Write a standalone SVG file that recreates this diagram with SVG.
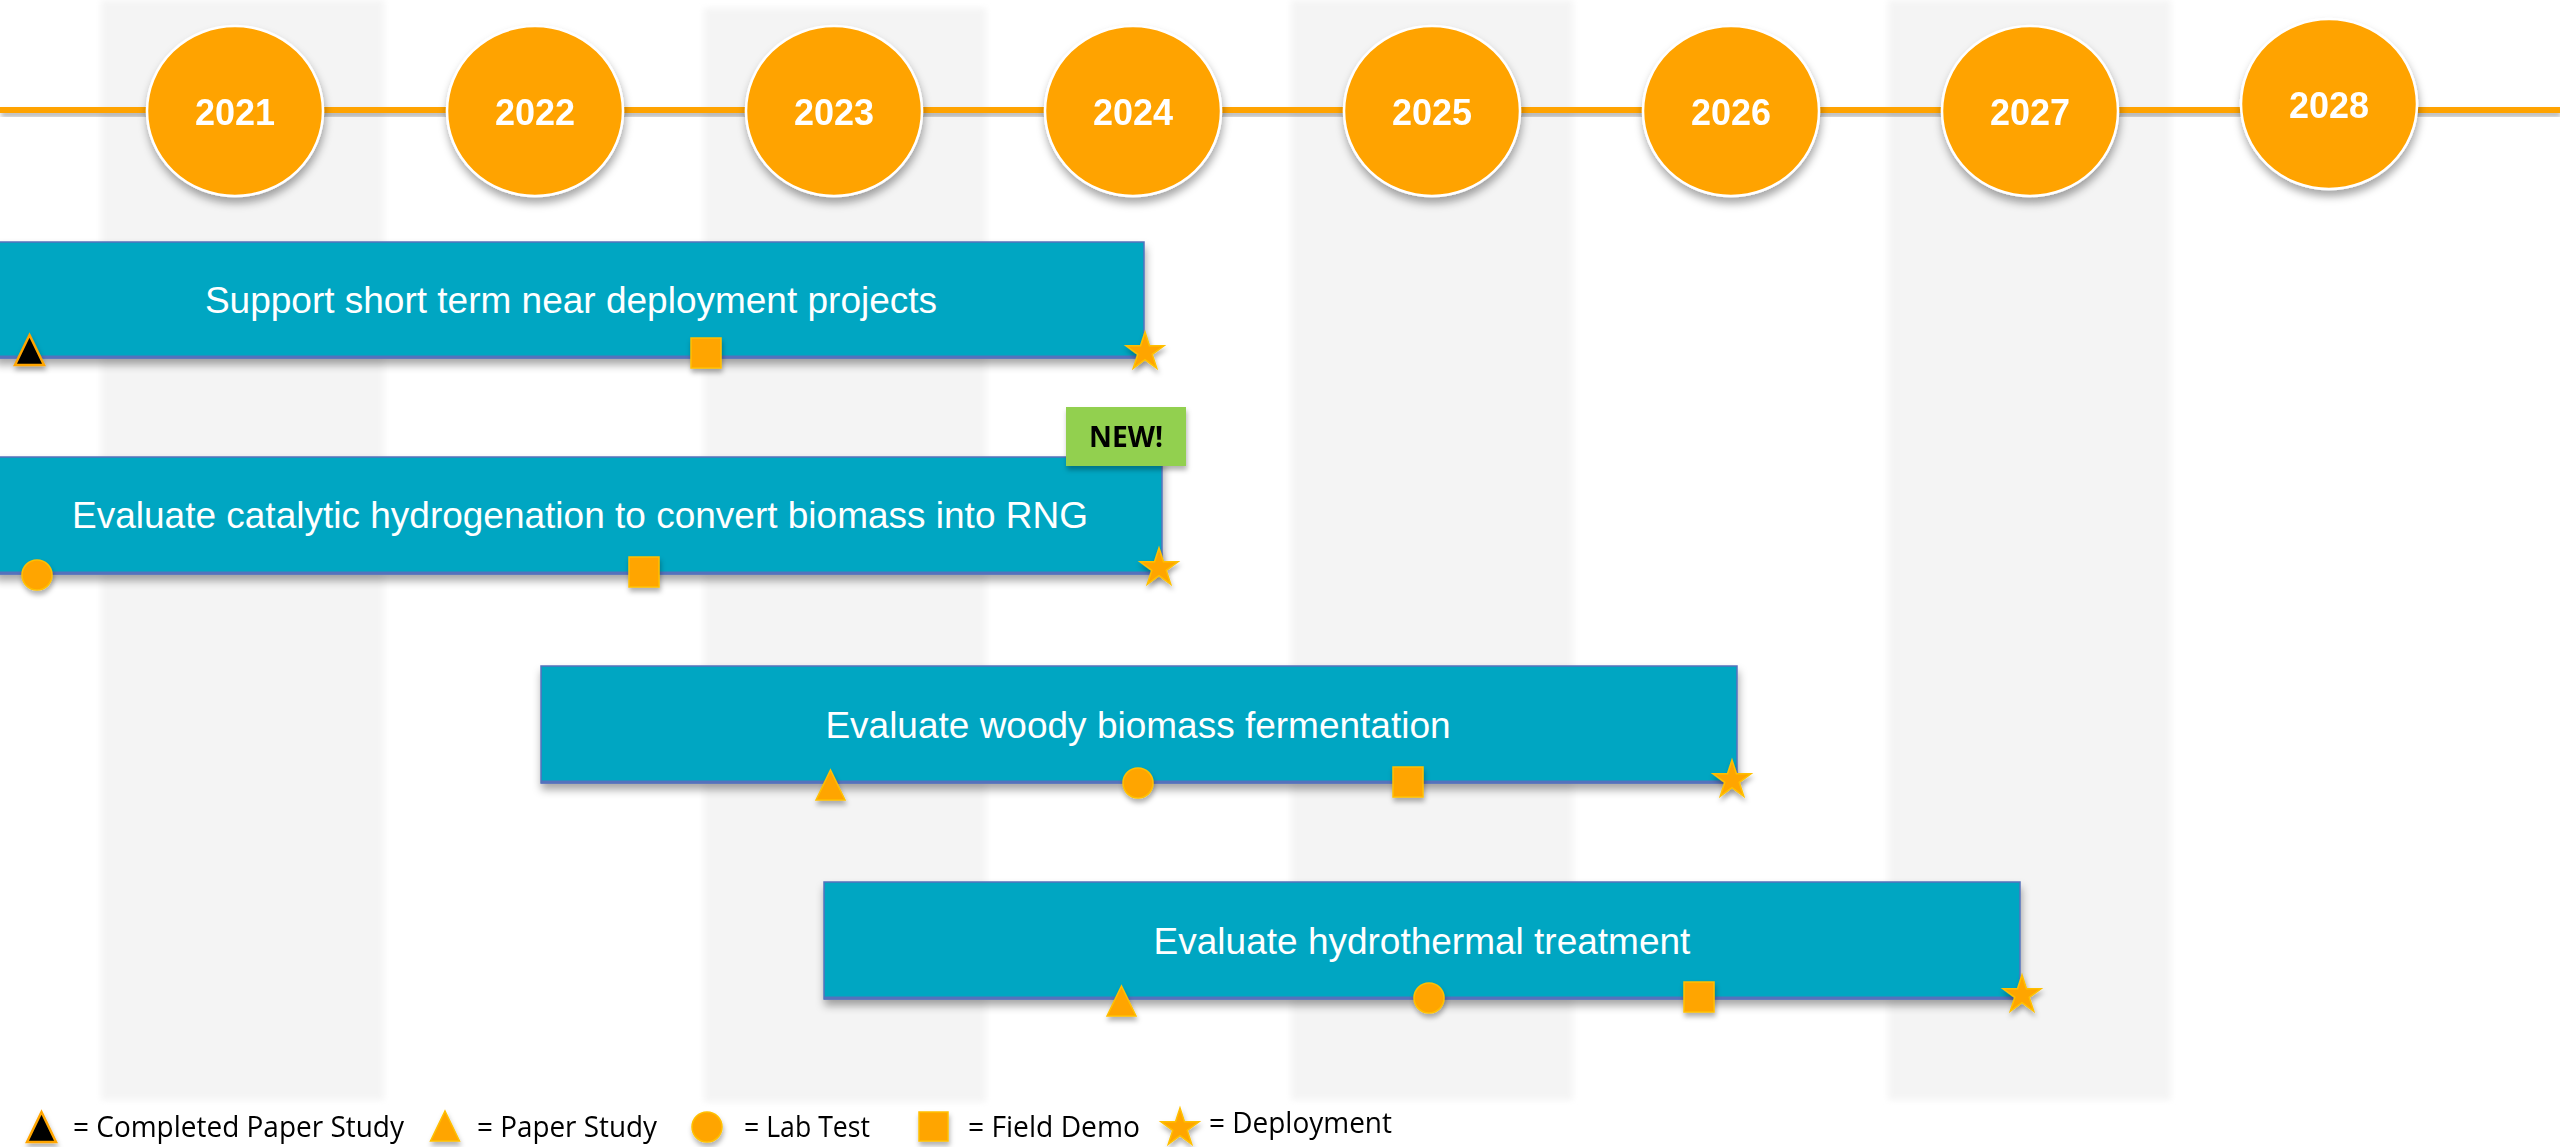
<svg xmlns="http://www.w3.org/2000/svg" xmlns:xlink="http://www.w3.org/1999/xlink" width="2560" height="1147" viewBox="0 0 2560 1147">
<defs>
<style>
.band{fill:#F4F4F4}
.yr{fill:#FFA300;stroke:#FFFFFF;stroke-width:2.5}
.yrt{font-family:"Liberation Sans",Arial,sans-serif;font-weight:bold;font-size:36px;fill:#FFFFFF;text-anchor:middle}
.bar{fill:#02A6C2;stroke:#5572BC;stroke-width:1.5}
.barb{stroke:#5572BC;stroke-width:3}
.bt{font-family:"Liberation Sans",Arial,sans-serif;font-size:37px;fill:#FFFFFF;text-anchor:middle}
.mk{fill:#FFA500;stroke:#FFC000;stroke-width:1.5}
.mkd{fill:#000000;stroke:#FFA500;stroke-width:2.5}
.lg{font-family:"Open Sans","Noto Sans",sans-serif;font-size:29px;fill:#000000}
</style>
<filter id="sh" x="-20%" y="-20%" width="140%" height="160%">
<feDropShadow dx="1" dy="6" stdDeviation="4" flood-color="#000" flood-opacity="0.35"/>
</filter>
<filter id="shs" x="-40%" y="-40%" width="180%" height="200%">
<feDropShadow dx="1" dy="4" stdDeviation="2.5" flood-color="#000" flood-opacity="0.3"/>
</filter>
<filter id="blur" x="-5%" y="-5%" width="110%" height="110%">
<feGaussianBlur stdDeviation="3"/>
</filter>
<path id="star" d="M0,-20 L4.49,-6.18 L19.02,-6.18 L7.27,2.36 L11.76,16.18 L0,7.64 L-11.76,16.18 L-7.27,2.36 L-19.02,-6.18 L-4.49,-6.18 Z"/>
<path id="tri" d="M0,-15 L14.5,15 L-14.5,15 Z"/>
</defs>
<rect width="2560" height="1147" fill="#FFFFFF"/>
<g id="bands" filter="url(#blur)">
<rect class="band" x="101" y="0" width="283" height="1100"/>
<rect class="band" x="704" y="8" width="282" height="1094"/>
<rect class="band" x="1291" y="0" width="282" height="1100"/>
<rect class="band" x="1888" y="0" width="283" height="1100"/>
</g>
<g id="connectors">
<rect x="0" y="107" width="2560" height="6" fill="#FFA300" filter="url(#shs)"/>
</g>
<g id="y2021" filter="url(#sh)"><ellipse class="yr" cx="235" cy="111" rx="88" ry="85"/><text class="yrt" x="235" y="125">2021</text></g>
<g id="y2022" filter="url(#sh)"><ellipse class="yr" cx="535" cy="111" rx="88" ry="85"/><text class="yrt" x="535" y="125">2022</text></g>
<g id="y2023" filter="url(#sh)"><ellipse class="yr" cx="834" cy="111" rx="88" ry="85"/><text class="yrt" x="834" y="125">2023</text></g>
<g id="y2024" filter="url(#sh)"><ellipse class="yr" cx="1133" cy="111" rx="88" ry="85"/><text class="yrt" x="1133" y="125">2024</text></g>
<g id="y2025" filter="url(#sh)"><ellipse class="yr" cx="1432" cy="111" rx="88" ry="85"/><text class="yrt" x="1432" y="125">2025</text></g>
<g id="y2026" filter="url(#sh)"><ellipse class="yr" cx="1731" cy="111" rx="88" ry="85"/><text class="yrt" x="1731" y="125">2026</text></g>
<g id="y2027" filter="url(#sh)"><ellipse class="yr" cx="2030" cy="111" rx="88" ry="85"/><text class="yrt" x="2030" y="125">2027</text></g>
<g id="y2028" filter="url(#sh)"><ellipse class="yr" cx="2329" cy="104" rx="88" ry="85"/><text class="yrt" x="2329" y="118">2028</text></g>

<g id="bar1">
<g filter="url(#sh)"><rect class="bar" x="-5" y="242" width="1149" height="116"/></g>
<line class="barb" x1="0" y1="357" x2="1144" y2="357"/>
<text class="bt" x="571" y="313">Support short term near deployment projects</text>
<g filter="url(#shs)">
<use xlink:href="#tri" class="mkd" x="29.5" y="350"/>
<rect class="mk" x="691" y="338" width="30" height="30"/>
<use xlink:href="#star" class="mk" x="1145" y="352"/>
</g>
</g>

<g id="bar2">
<g filter="url(#sh)"><rect class="bar" x="-5" y="457" width="1167" height="117"/></g>
<line class="barb" x1="0" y1="573" x2="1162" y2="573"/>
<text class="bt" x="580" y="528">Evaluate catalytic hydrogenation to convert biomass into RNG</text>
<g filter="url(#shs)">
<circle class="mk" cx="37" cy="575" r="15"/>
<rect class="mk" x="629" y="557" width="30" height="30"/>
<use xlink:href="#star" class="mk" x="1159" y="568"/>
</g>
</g>

<g id="new" filter="url(#shs)">
<rect x="1066" y="407" width="120" height="59" fill="#92D050"/>
<text x="1126" y="447" font-family="'Open Sans','Noto Sans',sans-serif" font-weight="bold" font-size="29" fill="#000" text-anchor="middle" textLength="74" lengthAdjust="spacingAndGlyphs">NEW!</text>
</g>

<g id="bar3">
<g filter="url(#sh)"><rect class="bar" x="541" y="666" width="1196" height="117"/></g>
<line class="barb" x1="541" y1="782" x2="1737" y2="782"/>
<text class="bt" x="1138" y="738">Evaluate woody biomass fermentation</text>
<g filter="url(#shs)">
<use xlink:href="#tri" class="mk" x="830.5" y="785"/>
<circle class="mk" cx="1138" cy="783" r="15"/>
<rect class="mk" x="1393" y="767" width="30" height="30"/>
<use xlink:href="#star" class="mk" x="1732" y="780"/>
</g>
</g>

<g id="bar4">
<g filter="url(#sh)"><rect class="bar" x="824" y="882" width="1196" height="117"/></g>
<line class="barb" x1="824" y1="998" x2="2020" y2="998"/>
<text class="bt" x="1422" y="954">Evaluate hydrothermal treatment</text>
<g filter="url(#shs)">
<use xlink:href="#tri" class="mk" x="1121.5" y="1001"/>
<circle class="mk" cx="1429" cy="998" r="15"/>
<rect class="mk" x="1684" y="982" width="30" height="30"/>
<use xlink:href="#star" class="mk" x="2022" y="995"/>
</g>
</g>

<g id="legend">
<g filter="url(#shs)">
<use xlink:href="#tri" class="mkd" x="41.5" y="1127"/>
<use xlink:href="#tri" class="mk" x="445" y="1126"/>
<circle class="mk" cx="707" cy="1127" r="15"/>
<rect class="mk" x="919" y="1112" width="29" height="29"/>
<use xlink:href="#star" class="mk" x="1180" y="1128"/>
</g>
<text class="lg" x="73" y="1137" textLength="331" lengthAdjust="spacingAndGlyphs">= Completed Paper Study</text>
<text class="lg" x="477" y="1137" textLength="180" lengthAdjust="spacingAndGlyphs">= Paper Study</text>
<text class="lg" x="744" y="1137" textLength="126" lengthAdjust="spacingAndGlyphs">= Lab Test</text>
<text class="lg" x="968" y="1137" textLength="172" lengthAdjust="spacingAndGlyphs">= Field Demo</text>
<text class="lg" x="1209" y="1133" textLength="183" lengthAdjust="spacingAndGlyphs">= Deployment</text>
</g>
</svg>
